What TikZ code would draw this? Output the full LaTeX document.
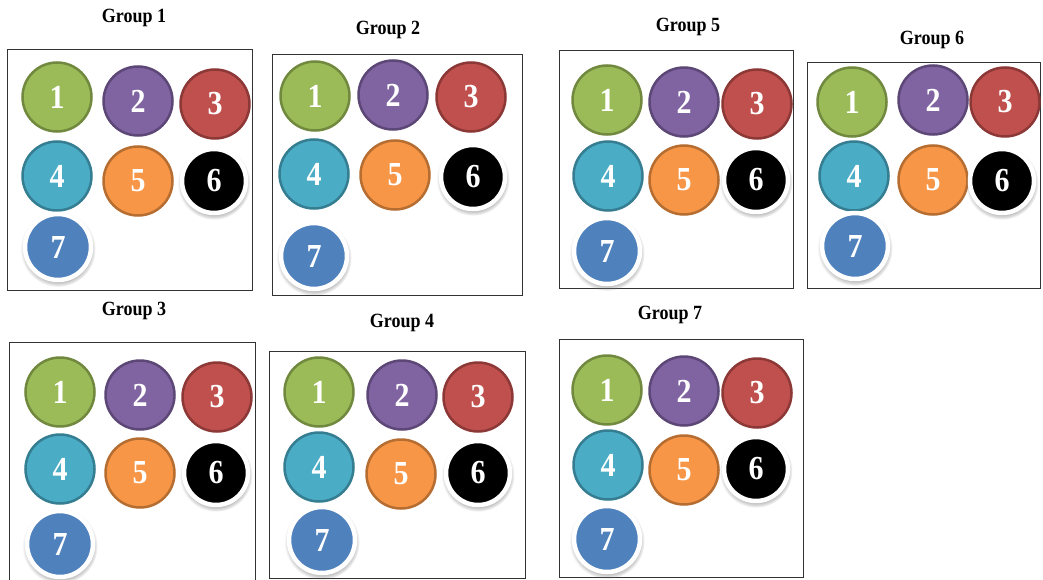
\documentclass[tikz,border=0pt]{standalone}
\usepackage{fontspec}
\setmainfont{Liberation Serif}
\usepackage{graphicx}
\usetikzlibrary{shadows}
\definecolor{cgreen}{HTML}{9BBB59}\definecolor{cgreend}{HTML}{71893F}
\definecolor{cpurple}{HTML}{8064A2}\definecolor{cpurpled}{HTML}{5C4776}
\definecolor{cred}{HTML}{C0504D}\definecolor{credd}{HTML}{8C3836}
\definecolor{cteal}{HTML}{4BACC6}\definecolor{cteald}{HTML}{357D91}
\definecolor{corange}{HTML}{F79646}\definecolor{oranged}{HTML}{B66D31}
\definecolor{cblue}{HTML}{4F81BD}
\newcommand\bnum[1]{\scalebox{1}[1.12]{#1}}
\newcommand\gtitle[1]{\scalebox{1}[1.12]{#1}}
\tikzset{
  ball/.style={circle, minimum size=69pt, inner sep=0pt, line width=2.5pt, text=white,
    font=\bfseries\fontsize{30}{30}\selectfont},
  ballA/.style={ball, fill=cgreen, draw=cgreend},
  ballB/.style={ball, fill=cpurple, draw=cpurpled},
  ballC/.style={ball, fill=cred, draw=credd},
  ballD/.style={ball, fill=cteal, draw=cteald},
  ballE/.style={ball, fill=corange, draw=oranged},
  ringball/.style={circle, inner sep=0pt, line width=4.5pt, draw=white, text=white,
    font=\bfseries\fontsize{30}{30}\selectfont,
    circular drop shadow={shadow xshift=0pt, shadow yshift=-2pt, shadow scale=1.14, opacity=0.55}},
  ballF/.style={ringball, minimum size=64pt, fill=black},
  ballG/.style={ringball, minimum size=66pt, fill=cblue},
  gbox/.style={draw=black!80, line width=1.1pt, inner sep=0pt, anchor=north west},
  gtitlestyle/.style={font=\bfseries\fontsize{18}{18}\selectfont, inner sep=0pt}
}
\newcommand\ballgroup[8]{%
  \node[ballA] (#1-1) at (#2) {\bnum{1}};
  \node[ballB] (#1-2) at (#3) {\bnum{2}};
  \node[ballC] (#1-3) at (#4) {\bnum{3}};
  \node[ballD] (#1-4) at (#5) {\bnum{4}};
  \node[ballE] (#1-5) at (#6) {\bnum{5}};
  \node[ballF] (#1-6) at (#7) {\bnum{6}};
  \node[ballG] (#1-7) at (#8) {\bnum{7}};
}
\begin{document}
\begin{tikzpicture}[x=1pt,y=-1pt]
\useasboundingbox[fill=white] (0,0) rectangle (1043,580);
% titles
\node[gtitlestyle] (t1) at (134,18) {\gtitle{Group 1}};
\node[gtitlestyle] (t2) at (388,30) {\gtitle{Group 2}};
\node[gtitlestyle] (t5) at (688,27) {\gtitle{Group 5}};
\node[gtitlestyle] (t6) at (932,40) {\gtitle{Group 6}};
\node[gtitlestyle] (t3) at (134,311) {\gtitle{Group 3}};
\node[gtitlestyle] (t4) at (402,323) {\gtitle{Group 4}};
\node[gtitlestyle] (t7) at (670,315) {\gtitle{Group 7}};
% boxes
\node[gbox, minimum width=245pt, minimum height=241pt] (box1) at (7,49) {};
\node[gbox, minimum width=250pt, minimum height=241pt] (box2) at (272,54) {};
\node[gbox, minimum width=234pt, minimum height=238pt] (box5) at (559,50) {};
\node[gbox, minimum width=233pt, minimum height=226pt] (box6) at (807,62) {};
\node[gbox, minimum width=246pt, minimum height=250pt] (box3) at (9,342) {};
\node[gbox, minimum width=256pt, minimum height=227pt] (box4) at (269,351) {};
\node[gbox, minimum width=244pt, minimum height=238pt] (box7) at (559,339) {};
% balls
\ballgroup{g1}{57,97}{138,101}{215,104}{57,176}{138,181}{214,181}{58,247}
\ballgroup{g2}{315,96}{393,95}{471,97}{314,174}{395,175}{473,177}{314,256}
\ballgroup{g5}{607,100}{684,102}{757,104}{608,176}{684,180}{756,180}{607,251}
\ballgroup{g6}{852,102}{933,100}{1005,102}{854,176}{933,180}{1002,181}{855,246}
\ballgroup{g3}{60,392}{140,395}{217,397}{60,469}{140,473}{216,473}{60,544}
\ballgroup{g4}{319,392}{402,395}{478,397}{319,467}{401,474}{478,473}{322,540}
\ballgroup{g7}{607,390}{684,391}{757,393}{608,465}{684,470}{756,469}{607,539}
\end{tikzpicture}
\end{document}
